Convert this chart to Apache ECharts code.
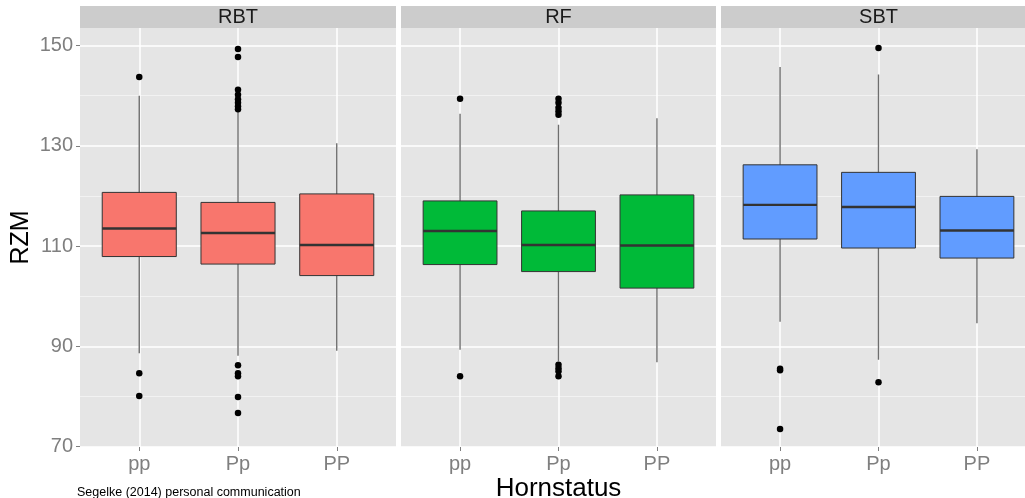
<!DOCTYPE html>
<html>
<head>
<meta charset="utf-8">
<script src="https://cdn.jsdelivr.net/npm/echarts@6/dist/echarts.min.js"></script>
<style>
  html, body { margin: 0; padding: 0; background: #fff; }
  #main { width: 1025px; height: 498px; }
</style>
</head>
<body>
<div id="main"></div>
<script>
// facets and groups
var facets = ['RBT', 'RF', 'SBT'];
var categories = ['pp', 'Pp', 'PP'];
var majorTicks = [70, 90, 110, 130, 150];
var minorTicks = [80, 100, 120, 140];

// [lower whisker, Q1, median, Q3, upper whisker] per group
var rbtBoxes = [
    [88.6, 107.9, 113.5, 120.7, 140.0],
    [88.1, 106.4, 112.6, 118.7, 136.9],
    [89.1, 104.1, 110.2, 120.4, 130.5]
];
var rfBoxes = [
    [89.3, 106.3, 113.0, 119.0, 136.4],
    [87.0, 104.9, 110.2, 117.0, 134.2],
    [86.8, 101.6, 110.1, 120.2, 135.5]
];
var sbtBoxes = [
    [94.9, 111.4, 118.2, 126.2, 145.7],
    [87.3, 109.6, 117.8, 124.7, 144.2],
    [94.6, 107.6, 113.1, 119.9, 129.3]
];

// outliers per group
var rbtOutliers = [
    [143.7, 84.6, 80.1],
    [149.3, 147.7, 141.2, 140.2, 139.3, 138.6, 137.9, 137.3, 86.2, 84.6, 84.0, 79.9, 76.7],
    []
];
var rfOutliers = [
    [139.4, 84.0],
    [139.4, 138.6, 137.6, 136.9, 136.2, 86.3, 85.6, 85.0, 84.0],
    []
];
var sbtOutliers = [
    [85.5, 85.2, 73.5],
    [149.5, 82.8],
    []
];

var boxSets = [rbtBoxes, rfBoxes, sbtBoxes];
var outlierSets = [rbtOutliers, rfOutliers, sbtOutliers];
var fills = ['#F8766D', '#00BA38', '#619CFF'];

// panel layout (px)
var panels = [
    { left: 80, width: 316 },
    { left: 401, width: 315 },
    { left: 721, width: 315 }
];
var panelTop = 28, panelBottom = 51;
var font = 'Liberation Sans, Arial, sans-serif';

function renderBox(params, api) {
    var x = api.value(0);
    var lo = api.coord([x, api.value(1)]);
    var q1 = api.coord([x, api.value(2)]);
    var med = api.coord([x, api.value(3)]);
    var q3 = api.coord([x, api.value(4)]);
    var hi = api.coord([x, api.value(5)]);
    var half = api.size([0.75, 0])[0] / 2;
    return {
        type: 'group',
        children: [
            { type: 'line', shape: { x1: lo[0], y1: lo[1], x2: hi[0], y2: hi[1] },
              style: { stroke: '#6e6e6e', lineWidth: 1.4 } },
            { type: 'rect', shape: { x: q3[0] - half, y: q3[1], width: half * 2, height: q1[1] - q3[1] },
              style: { fill: api.visual('color'), stroke: '#333', lineWidth: 1 } },
            { type: 'line', shape: { x1: med[0] - half, y1: med[1], x2: med[0] + half, y2: med[1] },
              style: { stroke: '#333', lineWidth: 2.4 } }
        ]
    };
}

var grids = [], xAxes = [], yAxes = [], series = [], graphics = [];

facets.forEach(function (name, i) {
    var p = panels[i];
    grids.push({
        left: p.left, width: p.width, top: panelTop, bottom: panelBottom,
        outerBoundsMode: 'none', containLabel: false,
        show: true, backgroundColor: '#e5e5e5', borderWidth: 0
    });
    xAxes.push({
        type: 'value', gridIndex: i, min: 0.4, max: 3.6,
        axisLine: { show: false },
        axisTick: { customValues: [1, 2, 3], length: 4, lineStyle: { color: '#7f7f7f' } },
        axisLabel: {
            customValues: [1, 2, 3], margin: 7,
            formatter: function (v) { return categories[Math.round(v) - 1]; },
            color: '#7f7f7f', fontSize: 20, fontFamily: font
        },
        splitLine: { show: true, lineStyle: { color: '#ffffff', width: 1.5 } },
        name: i === 1 ? 'Hornstatus' : '',
        nameLocation: 'middle', nameGap: 29, nameMoveOverlap: false,
        nameTextStyle: { fontSize: 26, color: '#000', fontFamily: font }
    });
    yAxes.push({
        type: 'value', gridIndex: i, min: 69.9, max: 153.5,
        axisLine: { show: false },
        axisTick: { show: i === 0, customValues: majorTicks, length: 4, lineStyle: { color: '#7f7f7f' } },
        axisLabel: { show: i === 0, customValues: majorTicks, margin: 7,
            color: '#7f7f7f', fontSize: 20, fontFamily: font },
        splitLine: { show: true, lineStyle: { color: '#ffffff', width: 1.5 } },
        name: i === 0 ? 'RZM' : '',
        nameLocation: 'middle', nameGap: 46, nameMoveOverlap: false,
        nameTextStyle: { fontSize: 25, color: '#000', fontFamily: font }
    });
    yAxes.push({
        type: 'value', gridIndex: i, min: 69.9, max: 153.5, position: 'left',
        axisLine: { show: false },
        axisTick: { show: false, customValues: minorTicks },
        axisLabel: { show: false, customValues: minorTicks },
        splitLine: { show: true, lineStyle: { color: '#f2f2f2', width: 1 } }
    });
    series.push({
        type: 'custom', xAxisIndex: i, yAxisIndex: i * 2,
        renderItem: renderBox,
        itemStyle: { color: fills[i] },
        data: boxSets[i].map(function (b, k) { return [k + 1].concat(b); }),
        z: 3
    });
    var pts = [];
    outlierSets[i].forEach(function (arr, k) {
        arr.forEach(function (v) { pts.push([k + 1, v]); });
    });
    series.push({
        type: 'scatter', xAxisIndex: i, yAxisIndex: i * 2,
        symbolSize: 6.5, itemStyle: { color: '#000', opacity: 1 },
        data: pts, z: 4
    });
    graphics.push({
        type: 'rect', left: p.left, top: 6,
        shape: { width: p.width, height: 22 },
        style: { fill: '#cccccc' }
    });
    graphics.push({
        type: 'text', x: p.left + p.width / 2, y: 17,
        style: { text: name, fill: '#1a1a1a', fontSize: 20, fontFamily: font,
            textAlign: 'center', textVerticalAlign: 'middle' }
    });
});

var option = {
    backgroundColor: '#ffffff',
    animation: false,
    title: {
        text: 'Segelke (2014) personal communication',
        left: 72, top: 481,
        textStyle: { fontSize: 12.5, fontWeight: 'normal', color: '#000', fontFamily: font }
    },
    grid: grids,
    xAxis: xAxes,
    yAxis: yAxes,
    series: series,
    graphic: graphics
};

var myChart = echarts.init(document.getElementById('main'));
myChart.setOption(option);
</script>
</body>
</html>
